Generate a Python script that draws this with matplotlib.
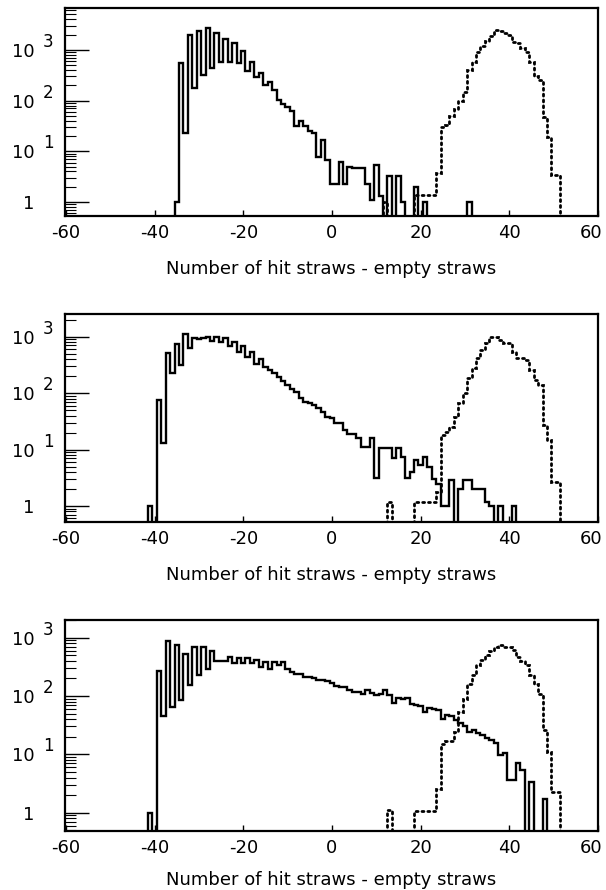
import numpy as np
import matplotlib
matplotlib.use("Agg")
import matplotlib.pyplot as plt
import matplotlib.transforms as mtransforms
from matplotlib.ticker import LogLocator, NullFormatter, FixedLocator

plt.rcParams['font.family'] = ['DejaVu Sans']

# ---------------- data (bin centres are integers, width 1) ----------------
x_label = "Number of hit straws - empty straws"
x_ticks = [-60, -40, -20, 0, 20, 40, 60]
y_ticks = [1, 10, 100, 1000]
y_base_labels = ['1', '10', '10', '10']
y_exp_labels = ['', '1', '2', '3']

p1_solid_start = -35
p1_solid = [1, 560, 23, 2000, 175, 2370, 320, 2680, 435, 2190,
            590, 1650, 590, 1350, 545, 930, 375, 590, 290, 355,
            205, 237, 162, 103, 86, 74, 61, 31, 40, 32,
            25, 23, 7.8, 17, 6.7, 2.3, 2.3, 6.2, 2.3, 5,
            4.6, 4.6, 4.6, 2.3, 1.1, 5.4, 1.3, 0, 3.2, 0,
            3.2, 1, 0, 0, 2, 0, 1, 0, 0, 0,
            0, 0, 0, 0, 0, 0, 1]
p1_dotted_start = 12
p1_dotted = [1.0, 0, 0, 0, 0, 0, 0, 1.4, 1.4, 1.4,
             1.4, 1.4, 3.7, 30, 33, 50, 68, 100, 150, 400,
             590, 890, 1200, 1500, 1900, 2500, 2400, 2200, 2000, 1450,
             1350, 1100, 900, 590, 300, 255, 48, 19.5, 3.4, 3.4]

p2_solid_start = -41
p2_solid = [1, 0, 75, 13, 510, 225, 730, 320, 1100, 620,
            930, 900, 950, 1000, 830, 1000, 810, 935, 670, 810,
            540, 670, 445, 540, 325, 410, 290, 255, 225, 195,
            165, 140, 120, 103, 83, 70, 68, 61, 54, 46,
            38, 36, 30, 29, 22, 19, 18.6, 15.8, 11, 11,
            16, 3.1, 10.5, 10.5, 10.5, 7, 10.5, 7.5, 3.1, 4,
            6.5, 5.3, 7.5, 5, 3, 2.5, 1, 1, 2.9, 0,
            2, 2.9, 2.9, 2, 2, 2, 1.2, 1, 0, 1,
            0, 0, 1]
p2_dotted_start = 13
p2_dotted = [1.2, 0, 0, 0, 0, 0, 1.2, 1.2, 1.2, 1.2,
             1.2, 1.8, 18, 20.7, 25, 38, 66, 100, 183, 275,
             415, 580, 760, 980, 980, 870, 760, 760, 540, 415,
             415, 385, 257, 170, 140, 27, 15, 2.7, 2.7]

p3_solid_start = -41
p3_solid = [1, 0, 265, 45, 880, 65, 740, 84, 530, 152,
            690, 225, 690, 295, 580, 390, 390, 400, 460, 370,
            450, 370, 440, 360, 420, 315, 380, 295, 380, 335,
            380, 290, 260, 240, 235, 215, 210, 200, 190, 185,
            180, 165, 150, 145, 140, 125, 118, 115, 108, 125,
            112, 105, 108, 125, 105, 75, 91, 88, 91, 72,
            70, 68, 54, 62, 60, 58, 41, 47, 45, 39,
            34, 30, 24.5, 26, 23, 21.5, 19, 17.6, 15.4, 9.7,
            10.4, 3.6, 3.6, 7, 5.4, 0, 3.4, 0, 0, 1.7]
p3_dotted_start = 13
p3_dotted = [1.1, 0, 0, 0, 0, 0, 1.05, 1.05, 1.05, 1.05,
             1.05, 2.5, 15, 17, 17, 24, 53, 90, 163, 225,
             335, 410, 500, 580, 700, 740, 690, 690, 610, 465,
             400, 335, 225, 163, 110, 26, 11, 2.3, 2.3]

panels = [
    dict(solid=(p1_solid_start, p1_solid), dotted=(p1_dotted_start, p1_dotted),
         ylim=(0.53, 6700), top_px=8, bottom_px=216, labelpad=12.5),
    dict(solid=(p2_solid_start, p2_solid), dotted=(p2_dotted_start, p2_dotted),
         ylim=(0.52, 2520), top_px=314, bottom_px=522, labelpad=13),
    dict(solid=(p3_solid_start, p3_solid), dotted=(p3_dotted_start, p3_dotted),
         ylim=(0.485, 2000), top_px=620, bottom_px=831, labelpad=9.5),
]

FLOOR = 1e-3
W_PX, H_PX = 606, 890
LEFT_PX, RIGHT_PX = 65, 598


def hist_arrays(start, vals):
    v = np.asarray(vals, dtype=float)
    edges = np.arange(len(v) + 1) + start - 0.5
    v = np.where(v > 0, v, FLOOR)
    return v, edges


fig = plt.figure(figsize=(W_PX / 100, H_PX / 100), dpi=100)

for p in panels:
    ax = fig.add_axes([LEFT_PX / W_PX, 1 - p['bottom_px'] / H_PX,
                       (RIGHT_PX - LEFT_PX) / W_PX,
                       (p['bottom_px'] - p['top_px']) / H_PX])
    ax.set_yscale('log')
    ax.set_xlim(-60.2, 60.0)
    ax.set_ylim(*p['ylim'])

    v, e = hist_arrays(*p['solid'])
    ax.stairs(v, e, baseline=FLOOR, color='black', linewidth=1.7, fill=False)
    v, e = hist_arrays(*p['dotted'])
    sp = ax.stairs(v, e, baseline=FLOOR, color='black', linewidth=2.0, fill=False,
                   linestyle=(0, (0.7, 1.4)))
    sp.set_capstyle('round')

    for s in ax.spines.values():
        s.set_linewidth(1.6)

    ax.xaxis.set_major_locator(FixedLocator(x_ticks))
    ax.set_xticklabels([str(t) for t in x_ticks])
    ax.tick_params(axis='x', which='major', direction='in', length=4, width=1,
                   top=False, bottom=True, labelsize=13, pad=6)
    ax.xaxis.set_minor_locator(FixedLocator([]))
    # keep the right-most label inside the figure
    last = ax.get_xticklabels()[-1]
    last.set_transform(last.get_transform() +
                       mtransforms.ScaledTranslation(-5 / 72, 0, fig.dpi_scale_trans))

    ax.yaxis.set_major_locator(FixedLocator(y_ticks))
    ax.set_yticklabels(y_base_labels)
    ax.yaxis.set_minor_locator(LogLocator(base=10, subs=np.arange(2, 10), numticks=20))
    ax.yaxis.set_minor_formatter(NullFormatter())
    ax.tick_params(axis='y', which='major', direction='in', length=17, width=1,
                   left=True, right=False, labelsize=13, pad=22)
    ax.tick_params(axis='y', which='minor', direction='in', length=8, width=0.8,
                   left=True, right=False)

    trans = mtransforms.offset_copy(ax.get_yaxis_transform(), fig=fig,
                                    x=-22, y=8, units='dots')
    for yv, ex in zip(y_ticks, y_exp_labels):
        if ex:
            ax.text(0, yv, ex, transform=trans, ha='left', va='center',
                    fontsize=12)

    ax.set_xlabel(x_label, fontsize=13, labelpad=p['labelpad'])

fig.savefig('out.png', dpi=100)
